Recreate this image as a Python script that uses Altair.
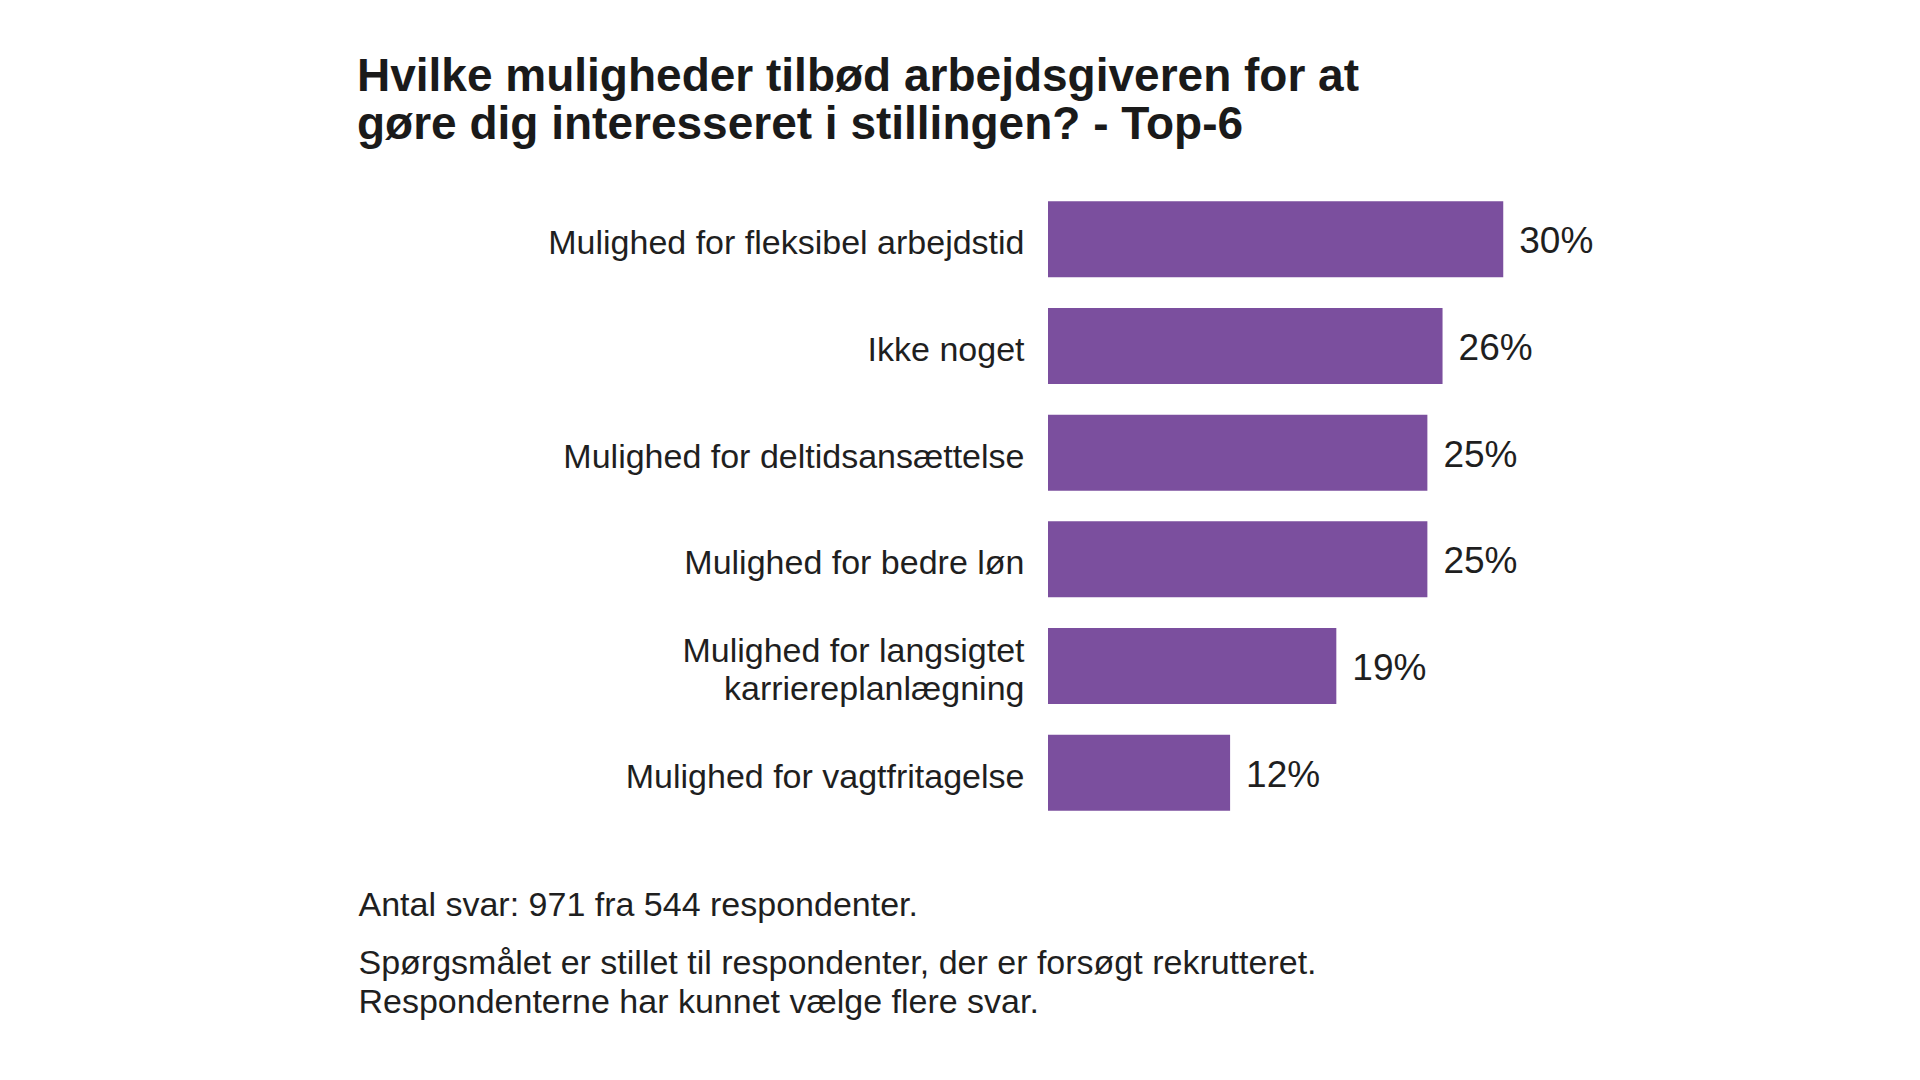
import altair as alt
import pandas as pd

categories = [
    "Mulighed for fleksibel arbejdstid",
    "Ikke noget",
    "Mulighed for deltidsansættelse",
    "Mulighed for bedre løn",
    "Mulighed for langsigtet|karriereplanlægning",
    "Mulighed for vagtfritagelse",
]
values = [30, 26, 25, 25, 19, 12]
value_labels = ["30%", "26%", "25%", "25%", "19%", "12%"]

title_lines = [
    "Hvilke muligheder tilbød arbejdsgiveren for at",
    "gøre dig interesseret i stillingen? - Top-6",
]
footer_count = "Antal svar: 971 fra 544 respondenter."
footer_notes = [
    "Spørgsmålet er stillet til respondenter, der er forsøgt rekrutteret.",
    "Respondenterne har kunnet vælge flere svar.",
]

df = pd.DataFrame({"kategori": categories, "andel": values, "etiket": value_labels})

FONT = "Liberation Sans"
BAR = "#7B4F9E"
TEXT = "#1f1f1f"

y = alt.Y(
    "kategori:N",
    sort=categories,
    scale=alt.Scale(paddingInner=0.287, paddingOuter=0.1435),
    axis=alt.Axis(
        title=footer_count,
        titleAngle=0,
        titleX=-690,
        titleY=729,
        titleAlign="left",
        titleBaseline="alphabetic",
        titleFont=FONT,
        titleFontSize=34,
        titleFontWeight="normal",
        titleColor=TEXT,
        labelExpr="split(datum.label, '|')",
        labelFont=FONT,
        labelFontSize=34,
        labelColor=TEXT,
        labelPadding=24,
        labelLineHeight=38,
        labelLimit=900,
        labelOffset={
            "condition": {"test": "indexof(datum.value, '|') >= 0", "value": -14},
            "value": 5,
        },
        domain=False,
        ticks=False,
        grid=False,
    ),
)
x = alt.X(
    "andel:Q",
    scale=alt.Scale(domain=[0, 40]),
    axis=alt.Axis(
        title=footer_notes,
        titleX=-690,
        titleY=147,
        titleAlign="left",
        titleAnchor="start",
        titleBaseline="alphabetic",
        titleLineHeight=39,
        titleFont=FONT,
        titleFontSize=34,
        titleFontWeight="normal",
        titleColor=TEXT,
        labels=False,
        ticks=False,
        domain=False,
        grid=False,
    ),
)

base = alt.Chart(df).encode(x=x, y=y)
bars = base.mark_bar(color=BAR)
texts = base.mark_text(
    align="left", baseline="middle", dx=16, dy=3, font=FONT, fontSize=37, color=TEXT
).encode(text="etiket:N")

chart = (
    alt.layer(bars, texts)
    .properties(
        width=607,
        height=640,
        title=alt.TitleParams(
            text=title_lines,
            anchor="start",
            frame="group",
            dx=-691,
            offset=37,
            font=FONT,
            fontSize=46,
            fontWeight="bold",
            color="#1a1a1a",
            lineHeight=48,
        ),
        padding={"left": 1040, "top": 178, "right": 120, "bottom": 230},
        autosize=alt.AutoSizeParams(type="none"),
        background="white",
    )
    .configure_view(stroke=None)
)

chart.save("out.html", embed_options={"renderer": "svg", "actions": False})
